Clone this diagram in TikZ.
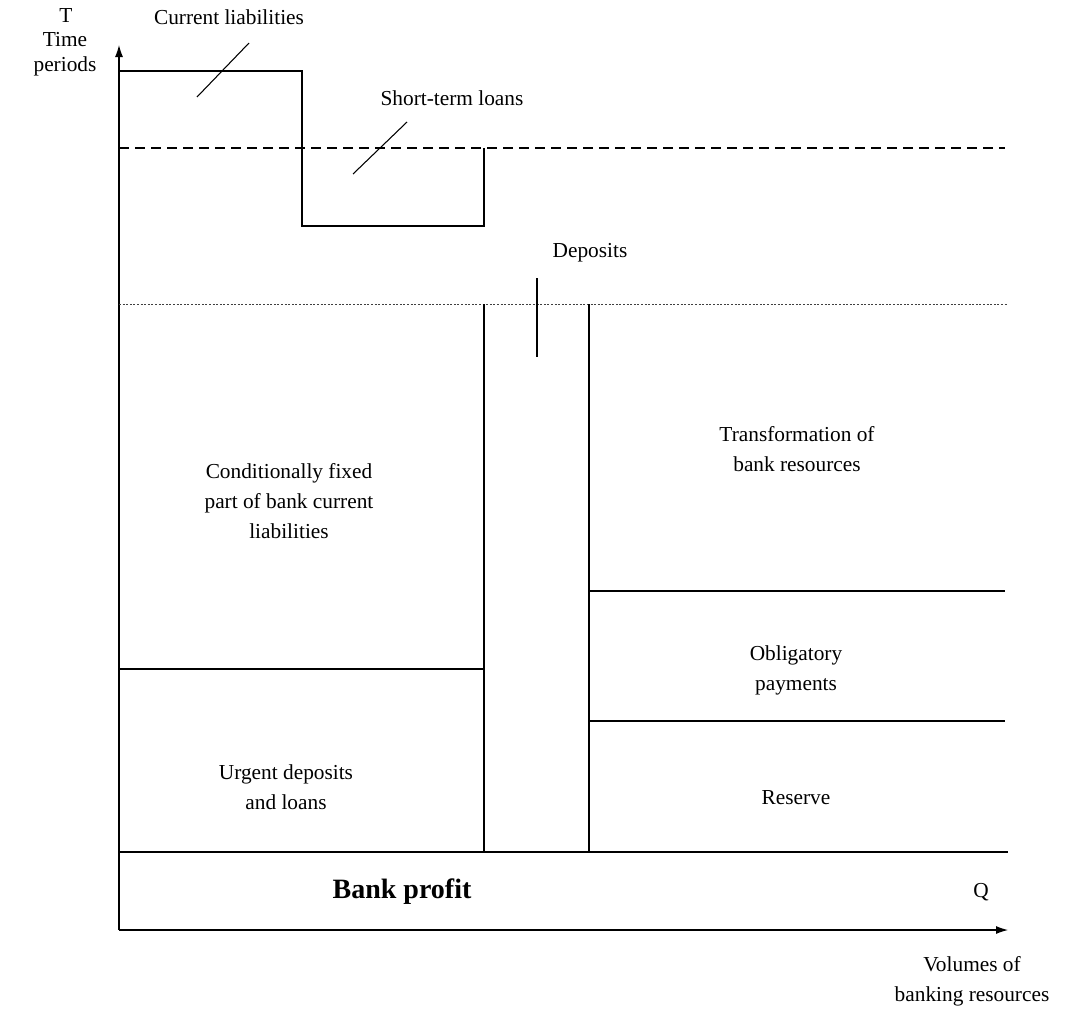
\documentclass[tikz,border=0pt]{standalone}
\usepackage{fontspec}
\setmainfont{Liberation Serif}
\usetikzlibrary{arrows.meta}
\begin{document}
\begin{tikzpicture}[x=0.75pt,y=-0.75pt,
  lbl/.style={font=\fontsize{16}{22.5}\selectfont, align=center, inner sep=0pt},
  tight/.style={font=\fontsize{16}{19}\selectfont, align=center, inner sep=0pt},
  big/.style={font=\fontsize{21}{25}\selectfont\bfseries, inner sep=0pt},
  ln/.style={line width=0.9pt, black},
  axis/.style={line width=0.8pt, black, -{Latex[length=9pt,width=6pt]}},
  dashln/.style={line width=0.9pt, dash pattern=on 7.5pt off 4.5pt},
  dotln/.style={line width=0.6pt, black!75, dash pattern=on 1.5pt off 1.2pt},
  leader/.style={line width=0.8pt, black}]
\useasboundingbox (0,0) rectangle (1066,1014);
% coordinates
\coordinate (O) at (119,930);
\coordinate (Ytop) at (119,45);
\coordinate (Xend) at (1008,930);
\coordinate (s1) at (119,71);
\coordinate (s2) at (302,71);
\coordinate (s3) at (302,226);
\coordinate (s4) at (484,226);
\coordinate (s5) at (484,148);
\coordinate (dA) at (119,148);
\coordinate (dB) at (1005,148);
\coordinate (pA) at (119,304);
\coordinate (pB) at (1008,304);
\coordinate (m1t) at (484,304);
\coordinate (m1b) at (484,852);
\coordinate (m2t) at (589,304);
\coordinate (m2b) at (589,852);
\coordinate (bA) at (119,852);
\coordinate (bB) at (1008,852);
\coordinate (uA) at (119,669);
\coordinate (uB) at (484,669);
\coordinate (rA) at (589,591);
\coordinate (rB) at (1005,591);
\coordinate (oA) at (589,721);
\coordinate (oB) at (1005,721);
\coordinate (l1a) at (197,97);
\coordinate (l1b) at (249,43);
\coordinate (l2a) at (353,174);
\coordinate (l2b) at (407,122);
\coordinate (l3a) at (537,278);
\coordinate (l3b) at (537,357);
% axes
\draw[axis] (O) -- (Ytop);
\draw[axis] (O) -- (Xend);
% current liabilities step
\draw[ln] (s1) -- (s2) -- (s3) -- (s4) -- (s5);
\draw[dashln] (dA) -- (dB);
\draw[dotln] (pA) -- (pB);
% blocks
\draw[ln] (m1t) -- (m1b);
\draw[ln] (m2t) -- (m2b);
\draw[ln] (bA) -- (bB);
\draw[ln] (uA) -- (uB);
\draw[ln] (rA) -- (rB);
\draw[ln] (oA) -- (oB);
% leaders
\draw[leader] (l1a) -- (l1b);
\draw[leader] (l2a) -- (l2b);
\draw[leader] (l3a) -- (l3b);
% labels
\node[lbl] (T) at (66,16) {T};
\node[tight] (tp) at (65,54) {Time\\periods};
\node[lbl] (cl) at (229,17) {Current liabilities};
\node[lbl] (stl) at (452,98) {Short-term loans};
\node[lbl] (dep) at (590,253) {Deposits};
\node[lbl] (cf) at (289,501) {Conditionally fixed\\part of bank current\\liabilities};
\node[lbl] (tr) at (797,449) {Transformation of\\bank resources};
\node[lbl] (ob) at (796,670) {Obligatory\\payments};
\node[lbl] (ud) at (286,787) {Urgent deposits\\and loans};
\node[lbl] (res) at (796,798) {Reserve};
\node[big] (bp) at (402,892) {Bank profit};
\node[lbl] (Q) at (981,892) {Q};
\node[lbl] (vol) at (972,981) {Volumes of\\banking resources};
\end{tikzpicture}
\end{document}
